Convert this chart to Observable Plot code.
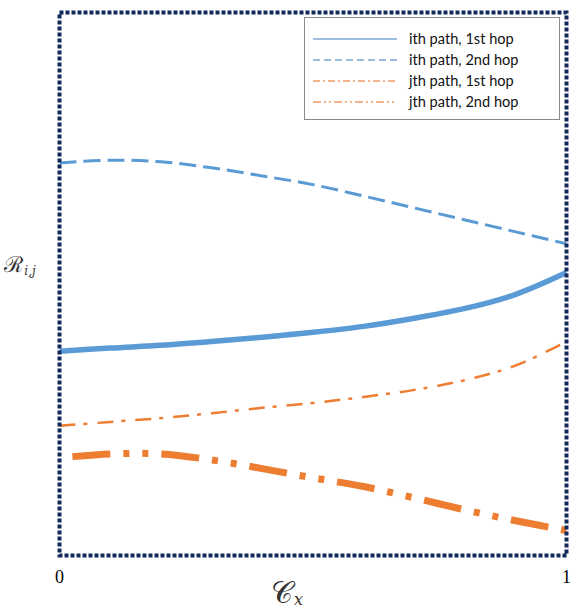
<!DOCTYPE html>
<html>
<head>
<meta charset="utf-8">
<script src="https://cdn.jsdelivr.net/npm/d3@7"></script>
<script src="https://cdn.jsdelivr.net/npm/@observablehq/plot@0.6"></script>
<style>
  body { margin: 0; background: white; }
  #wrap { position: relative; width: 571px; height: 612px; overflow: hidden; }
  #legend { position: absolute; left: 304px; top: 17px; width: 254px; height: 101px;
    border: 1px solid #8a8a8a; background: white; font-family: Lato, "Open Sans", sans-serif; font-size: 14.6px; color: #111; }
</style>
</head>
<body>
<div id="wrap"></div>
<script>
// x positions (Cx from 0 to 1)
const xs = [0, 0.1, 0.2, 0.3, 0.4, 0.5, 0.6, 0.7, 0.8, 0.9, 1.0];
// series values (arbitrary units)
const ithHop1 = [0.376, 0.382, 0.387, 0.394, 0.402, 0.411, 0.422, 0.437, 0.455, 0.481, 0.521];
const ithHop2 = [0.723, 0.728, 0.725, 0.714, 0.699, 0.683, 0.662, 0.640, 0.618, 0.596, 0.574];
const jthHop1 = [0.239, 0.246, 0.253, 0.262, 0.272, 0.281, 0.292, 0.305, 0.323, 0.350, 0.394];
const jthHop2 = [0.180, 0.187, 0.187, 0.176, 0.160, 0.143, 0.127, 0.106, 0.084, 0.064, 0.046];
const seriesNames = ["ith path, 1st hop", "ith path, 2nd hop", "jth path, 1st hop", "jth path, 2nd hop"];
const xTicks = [0, 1];

const blue = "#5b9bd5", orange = "#ed7d31";
const styles = [
  {stroke: blue, strokeWidth: 5.5, dash: null, off: 0, lstroke: "#7aa7d4", ldash: null},
  {stroke: blue, strokeWidth: 3, dash: "17,7", off: 0, lstroke: "#7aa7d4", ldash: "7,4"},
  {stroke: orange, strokeWidth: 2.5, dash: "16,8,4,10", off: 0, lstroke: "#eb9a66", ldash: "7,3,2,3"},
  {stroke: orange, strokeWidth: 7, dash: "38,13,6,13,6,13", off: 76, lstroke: "#eb9a66", ldash: "8,3,2,3,2,3"}
];
const allSeries = [ithHop1, ithHop2, jthHop1, jthHop2];
const rows = allSeries.map(vals => xs.map((x, i) => ({x, y: vals[i]})));

const plot = Plot.plot({
  width: 571, height: 612,
  marginLeft: 59, marginRight: 5, marginTop: 12, marginBottom: 57,
  x: {domain: [0, 1]},
  y: {domain: [0, 1], axis: null},
  style: {background: "white"},
  marks: [
    ...rows.map((d, k) => Plot.line(d, {x: "x", y: "y", curve: "catmull-rom",
      stroke: styles[k].stroke, strokeWidth: styles[k].strokeWidth,
      strokeDasharray: styles[k].dash, strokeDashoffset: styles[k].off,
      strokeLinecap: "butt", strokeLinejoin: "round"})),
    Plot.frame({stroke: "#12295c", strokeWidth: 4, strokeDasharray: "4,2"}),
    Plot.axisX({ticks: xTicks, tickSize: 0, tickPadding: 15, label: null,
      tickFormat: d => String(d), fontSize: 18, fontFamily: "Liberation Serif, serif"})
  ]
});
const wrap = document.getElementById("wrap");
wrap.appendChild(plot);

const svg = d3.select(plot);
// y label
const yl = svg.append("text").attr("x", 20).attr("y", 272)
  .attr("font-family", "DejaVu Serif, serif").attr("fill", "#333");
yl.append("tspan").attr("font-size", 22).text("ℛ");
yl.append("tspan").attr("font-size", 12).attr("font-style", "italic").attr("dx", 1).attr("dy", 3).text("i,j");
// x label
const xl = svg.append("text").attr("x", 287).attr("y", 603)
  .attr("font-family", "DejaVu Serif, serif").attr("fill", "#333");
xl.append("tspan").attr("font-size", 30).text("𝒞");
xl.append("tspan").attr("font-size", 16).attr("font-style", "italic").attr("dx", 1).attr("dy", 2).text("x");

// legend
const leg = document.createElement("div");
leg.id = "legend";
wrap.appendChild(leg);
const rowTop = [21, 42, 63, 84];
seriesNames.forEach((name, k) => {
  const s = document.createElementNS("http://www.w3.org/2000/svg", "svg");
  s.setAttribute("width", 90); s.setAttribute("height", 10);
  s.style.position = "absolute"; s.style.left = "8px"; s.style.top = (rowTop[k] - 5) + "px";
  const l = document.createElementNS("http://www.w3.org/2000/svg", "line");
  l.setAttribute("x1", 0); l.setAttribute("x2", 84); l.setAttribute("y1", 5); l.setAttribute("y2", 5);
  l.setAttribute("stroke", styles[k].lstroke); l.setAttribute("stroke-width", 1.3);
  if (styles[k].ldash) l.setAttribute("stroke-dasharray", styles[k].ldash);
  s.appendChild(l);
  leg.appendChild(s);
  const t = document.createElement("div");
  t.textContent = name;
  t.style.position = "absolute"; t.style.left = "104px"; t.style.top = (rowTop[k] - 10) + "px";
  t.style.lineHeight = "20px";
  leg.appendChild(t);
});
</script>
</body>
</html>
